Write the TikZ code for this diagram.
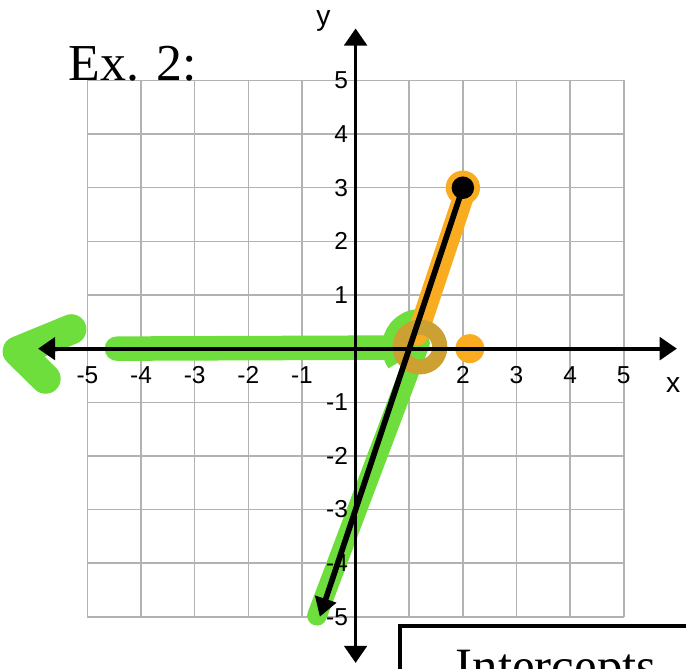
\documentclass[tikz,border=0pt]{standalone}
\usepackage{fontspec}
\setmainfont{Liberation Serif}
\setsansfont{Liberation Sans}
\usetikzlibrary{arrows.meta}
\definecolor{marker}{RGB}{110,222,60}
\definecolor{hilite}{RGB}{250,172,32}
\definecolor{ringcol}{RGB}{205,160,50}

\begin{document}
\begin{tikzpicture}[every node/.style={font=\sffamily\fontsize{13}{14}\selectfont, inner sep=1pt}]
  \clip (-6.63,-5.97) rectangle (6.16,6.50);
  \fill[white] (-6.63,-5.97) rectangle (6.16,6.50);
  \draw[gray!60, line width=0.8pt] (-5,-5) grid (5,5);
  % points of the graph
  \coordinate (top) at (2,3);
  \coordinate (xint) at (1,0);
  \coordinate (low) at (-0.667,-5);
  \coordinate (xl) at (-5.92,0);
  \coordinate (xr) at (5.99,0);
  \coordinate (yb) at (0,-5.86);
  \coordinate (yt) at (0,5.97);
  % green highlighter
  \draw[marker, line width=13pt, line cap=round] (0.8,0.02) -- (-4.45,0.0);
  \draw[marker, line width=16pt, line cap=round, line join=round]
    (-5.3,0.36) -- (-6.3,-0.05) -- (-5.78,-0.56);
  \draw[marker, line width=10.5pt, line cap=round] (1.2,0.1) -- (-0.72,-4.98);
  \draw[marker, line width=9pt] (1.2,0.03) ++(95:0.55) arc (95:215:0.55);
  % orange highlighter
  \draw[hilite, line width=11pt, line cap=round] (1.15,0.25) -- (2.05,2.95);
  \fill[hilite] (top) circle (0.32);
  \fill[hilite] (2.13,0) circle (0.27);
  \draw[ringcol, line width=8pt] (1.2,0.03) circle (0.37);
  % axes
  \draw[line width=2pt, {Triangle[length=3.2mm,width=4.2mm]}-{Triangle[length=3.2mm,width=4.2mm]}] (xl) -- (xr);
  \draw[line width=2pt, {Triangle[length=3.2mm,width=4.2mm]}-{Triangle[length=3.2mm,width=4.2mm]}] (yb) -- (yt);
  \node (ylab) at (-0.6,6.1) {\fontsize{15}{15}\selectfont y};
  \node (xlab) at (5.92,-0.68) {\fontsize{15}{15}\selectfont x};
  % tick labels
  \foreach \i in {2,3,4,5}
    \node (tx\i) at (\i,-0.49) {\i};
  \foreach \i in {-5,-4,-3,-2,-1}
    \node (tx\i) at (\i,-0.49) {\i};
  \foreach \i in {-5,-4,-3,-2,-1,1,2,3,4,5}
    \node[anchor=east] (ty\i) at (-0.1,\i) {\i};
  % the line
  \draw[line width=3pt, -{Triangle[length=3.5mm,width=4mm]}] (top) -- (low);
  \fill (top) circle (0.21);
  % title and box
  \node[anchor=base west, inner sep=0pt, font=\rmfamily\fontsize{27.5}{30}\selectfont] (title) at (-5.36,5.0) {Ex. 2:};
  \node[draw, line width=2pt, anchor=north west, minimum width=7cm, minimum height=2cm, inner sep=0pt] (box) at (0.79,-5.13) {};
  \node[anchor=base west, inner sep=0pt, font=\rmfamily\fontsize{27}{30}\selectfont] (intc) at (1.86,-6.25) {Intercepts};
\end{tikzpicture}
\end{document}
